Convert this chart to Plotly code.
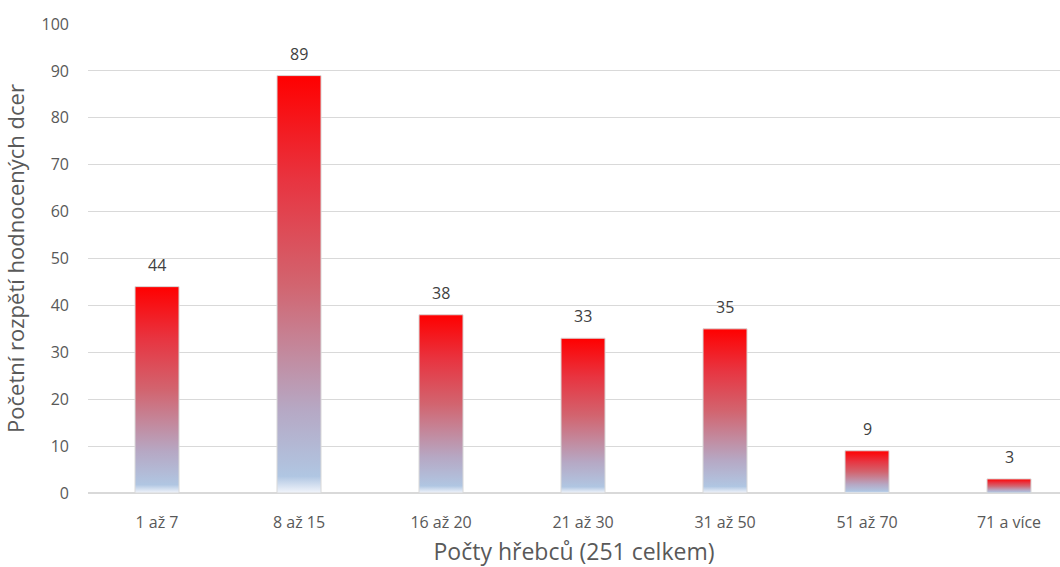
import plotly.graph_objects as go

categories = ["1 až 7", "8 až 15", "16 až 20", "21 až 30", "31 až 50", "51 až 70", "71 a více"]
values = [44, 89, 38, 33, 35, 9, 3]
y_ticks = [0, 10, 20, 30, 40, 50, 60, 70, 80, 90, 100]

bar_half = 0.155
grad = [[0.0, "#F2F5FB"], [0.04, "#B0C6E2"], [0.2, "#B6A8C4"], [0.5, "#D2646F"],
        [0.75, "#E83440"], [1.0, "#FF0000"]]

fig = go.Figure()
for i, v in enumerate(values):
    fig.add_trace(go.Scatter(
        x=[i - bar_half, i + bar_half, i + bar_half, i - bar_half, i - bar_half],
        y=[0, 0, v, v, 0],
        mode="lines", fill="toself",
        fillgradient=dict(type="vertical", colorscale=grad),
        line=dict(color="#D9D9D9", width=1),
        hoverinfo="skip", showlegend=False,
    ))

for i, v in enumerate(values):
    fig.add_annotation(x=i, y=v, text=str(v), showarrow=False, yanchor="bottom",
                       yshift=9, font=dict(family="Open Sans", size=16, color="#404040"))

fig.update_layout(
    width=1060, height=567,
    margin=dict(l=88, r=0, t=24, b=74),
    paper_bgcolor="white", plot_bgcolor="white",
    font=dict(family="Open Sans", color="#595959"),
    xaxis=dict(
        range=[-0.486, 6.359], tickmode="array", tickvals=list(range(len(categories))),
        ticktext=categories, showgrid=False, zeroline=False, showline=False, automargin=False,
        tickfont=dict(size=16, color="#595959"), ticks="", ticklabelstandoff=18,
        title=dict(text="Počty hřebců (251 celkem)", font=dict(size=23, color="#595959"), standoff=12),
    ),
    yaxis=dict(
        range=[0, 100], tickmode="array", tickvals=y_ticks, automargin=False,
        showgrid=True, gridcolor="#D9D9D9", gridwidth=1, zeroline=True, zerolinecolor="#D9D9D9",
        tickfont=dict(size=16, color="#595959"), ticks="", ticklabelstandoff=18,
        title=dict(text="Početní rozpětí hodnocených dcer", font=dict(size=22, color="#595959"), standoff=14),
    ),
)

fig.write_html("out.html", config={"displayModeBar": False},
               post_script="document.body.style.margin='0';document.body.style.padding='0';document.body.style.overflow='hidden';")
